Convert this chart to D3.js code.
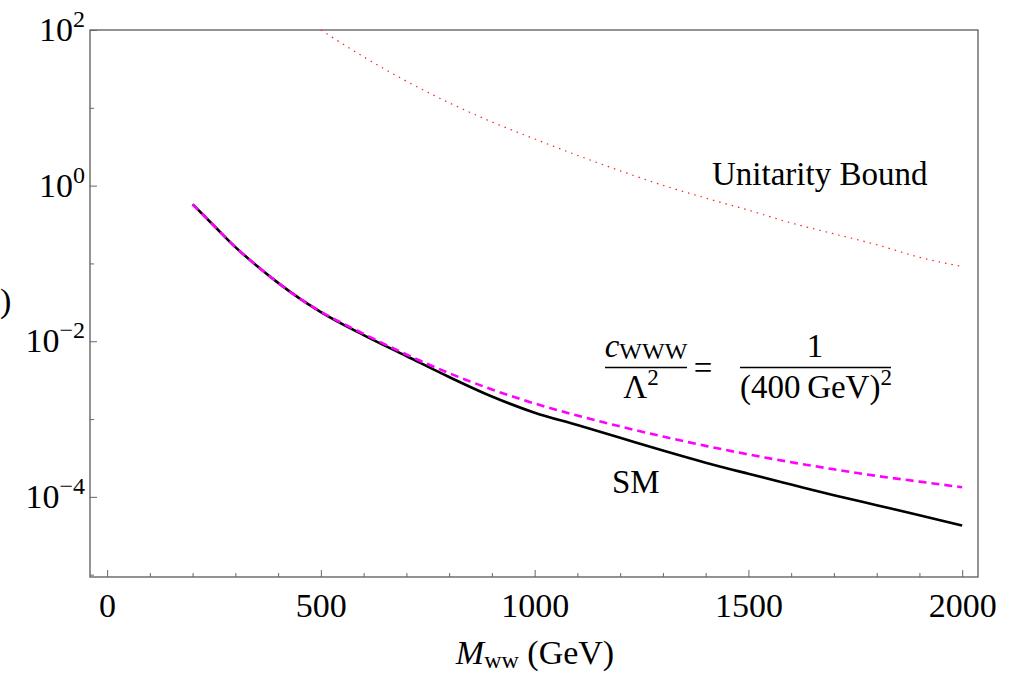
<!DOCTYPE html>
<html>
<head>
<meta charset="utf-8">
<script src="https://cdnjs.cloudflare.com/ajax/libs/d3/7.8.5/d3.min.js"></script>
<style>
  html, body { margin: 0; padding: 0; background: #fff; }
  svg { display: block; }
  text { font-family: "Liberation Serif", "DejaVu Serif", serif; fill: #000; }
</style>
</head>
<body>
<svg id="chart" width="1028" height="674"></svg>
<script>
// ---- data ----
const massSM = [200,250,300,350,400,450,500,600,700,800,900,1000,1100,1200,1300,1400,1500,1600,1700,1800,1900,2000];
const smValues = [0.575,0.305,0.162,0.0933,0.0562,0.0355,0.0237,0.0120,6.46e-3,3.47e-3,1.95e-3,1.208e-3,8.36e-4,5.75e-4,3.94e-4,2.75e-4,1.98e-4,1.44e-4,1.05e-4,7.82e-5,5.82e-5,4.27e-5];
const cwwwValues = [0.575,0.305,0.162,0.0933,0.0562,0.0355,0.0240,0.01245,6.76e-3,3.89e-3,2.40e-3,1.585e-3,1.109e-3,8.04e-4,5.96e-4,4.52e-4,3.51e-4,2.79e-4,2.26e-4,1.86e-4,1.57e-4,1.33e-4];
const massUB = [500,600,700,800,900,1000,1100,1200,1300,1400,1500,1600,1700,1800,1900,2000];
const ubValues = [100,45.2,22.0,11.6,6.59,3.98,2.45,1.55,1.01,0.692,0.484,0.331,0.240,0.174,0.120,0.0912];
const xMajorTicks = [0,500,1000,1500,2000];
const xMinorTicks = [100,200,300,400,600,700,800,900,1100,1200,1300,1400,1600,1700,1800,1900];
const yMajorExps = [2,0,-2,-4];
const yMinorExps = [1,-1,-3,-5];

// ---- layout ----
const svg = d3.select("#chart");
const L = 90, R = 978, T = 30, B = 577;
const x = d3.scaleLinear().domain([-40, 2037]).range([L, R]);
const y = d3.scaleLog().domain([Math.pow(10,-5.03), 100]).range([B, T]);

const frameColor = "#666";

// clip
svg.append("defs").append("clipPath").attr("id","clip")
  .append("rect").attr("x",L).attr("y",T).attr("width",R-L).attr("height",B-T);

// axes (ticks pointing inward)
const xAxisMajor = d3.axisBottom(x).tickValues(xMajorTicks).tickSize(-7).tickSizeOuter(0).tickFormat(d3.format("d")).tickPadding(14);
const xAxisMinor = d3.axisBottom(x).tickValues(xMinorTicks).tickSize(-4).tickSizeOuter(0).tickFormat("");
const gx = svg.append("g").attr("transform",`translate(0,${B})`).call(xAxisMajor);
const gxm = svg.append("g").attr("transform",`translate(0,${B})`).call(xAxisMinor);
[gx, gxm].forEach(g => {
  g.select(".domain").remove();
  g.selectAll(".tick line").attr("stroke", frameColor).attr("stroke-width",1);
});
gx.selectAll(".tick text")
  .attr("font-size",34).attr("fill","#000")
  .attr("dy","0.75em");

const yAxisMajor = d3.axisLeft(y).tickValues(yMajorExps.map(e => Math.pow(10,e))).tickSize(-7).tickSizeOuter(0).tickFormat("");
const yAxisMinor = d3.axisLeft(y).tickValues(yMinorExps.map(e => Math.pow(10,e))).tickSize(-4).tickSizeOuter(0).tickFormat("");
const gy = svg.append("g").attr("transform",`translate(${L},0)`).call(yAxisMajor);
const gym = svg.append("g").attr("transform",`translate(${L},0)`).call(yAxisMinor);
[gy, gym].forEach(g => {
  g.select(".domain").remove();
  g.selectAll(".tick line").attr("stroke", frameColor).attr("stroke-width",1);
});

// y tick labels: 10^n
yMajorExps.forEach(e => {
  const t = svg.append("text")
    .attr("x", L - 5)
    .attr("y", y(Math.pow(10,e)) + 11)
    .attr("text-anchor","end")
    .attr("font-size",34);
  t.append("tspan").text("10");
  t.append("tspan").attr("font-size",24).attr("dy",-14).text(String(e).replace("-","\u2212"));
});

// frame
svg.append("rect").attr("x",L).attr("y",T).attr("width",R-L).attr("height",B-T)
  .attr("fill","none").attr("stroke",frameColor).attr("stroke-width",1.4);

// lines
const plot = svg.append("g").attr("clip-path","url(#clip)");
const line = d3.line().x(d => x(d[0])).y(d => y(d[1])).curve(d3.curveMonotoneX);

plot.append("path")
  .datum(massUB.map((m,i) => [m, ubValues[i]]))
  .attr("d", line).attr("fill","none")
  .attr("stroke","#ff2020").attr("stroke-width",1.2)
  .attr("stroke-dasharray","1.5,5");

plot.append("path")
  .datum(massSM.map((m,i) => [m, smValues[i]]))
  .attr("d", line).attr("fill","none")
  .attr("stroke","#000").attr("stroke-width",2.6);

plot.append("path")
  .datum(massSM.map((m,i) => [m, cwwwValues[i]]))
  .attr("d", line).attr("fill","none")
  .attr("stroke","#ff00ff").attr("stroke-width",2.6)
  .attr("stroke-dasharray","8,5");

// annotations
svg.append("text").attr("x",712).attr("y",185).attr("font-size",33).text("Unitarity Bound");
svg.append("text").attr("x",612).attr("y",493).attr("font-size",33).text("SM");

// fraction c_WWW / Λ^2 = 1 / (400 GeV)^2
const num1 = svg.append("text").attr("x",646).attr("y",357).attr("text-anchor","middle").attr("font-size",33);
num1.append("tspan").attr("font-style","italic").text("c");
num1.append("tspan").attr("font-size",24).attr("dy",2).text("WWW");
svg.append("line").attr("x1",605).attr("x2",687).attr("y1",367.5).attr("y2",367.5).attr("stroke","#000").attr("stroke-width",1.3);
const den1 = svg.append("text").attr("x",641).attr("y",398).attr("text-anchor","middle").attr("font-size",33);
den1.append("tspan").text("\u039B");
den1.append("tspan").attr("font-size",23).attr("dy",-13).text("2");
svg.append("text").attr("x",703).attr("y",379).attr("text-anchor","middle").attr("font-size",33).text("=");
svg.append("text").attr("x",815).attr("y",357).attr("text-anchor","middle").attr("font-size",33).text("1");
svg.append("line").attr("x1",740).attr("x2",891).attr("y1",367.5).attr("y2",367.5).attr("stroke","#000").attr("stroke-width",1.3);
const den2 = svg.append("text").attr("x",816).attr("y",398).attr("text-anchor","middle").attr("font-size",33);
den2.append("tspan").text("(400\u2009GeV)");
den2.append("tspan").attr("font-size",23).attr("dy",-13).text("2");

// axis labels
const xl = svg.append("text").attr("x",535).attr("y",664).attr("text-anchor","middle").attr("font-size",34);
xl.append("tspan").attr("font-style","italic").text("M");
xl.append("tspan").attr("font-size",24).attr("dy",4).text("ww");
xl.append("tspan").attr("dy",-4).text(" (GeV)");

// y-axis label: only its closing parenthesis is visible in the reference
svg.append("text").attr("x",0).attr("y",312).attr("font-size",34).text(")");
</script>
</body>
</html>
